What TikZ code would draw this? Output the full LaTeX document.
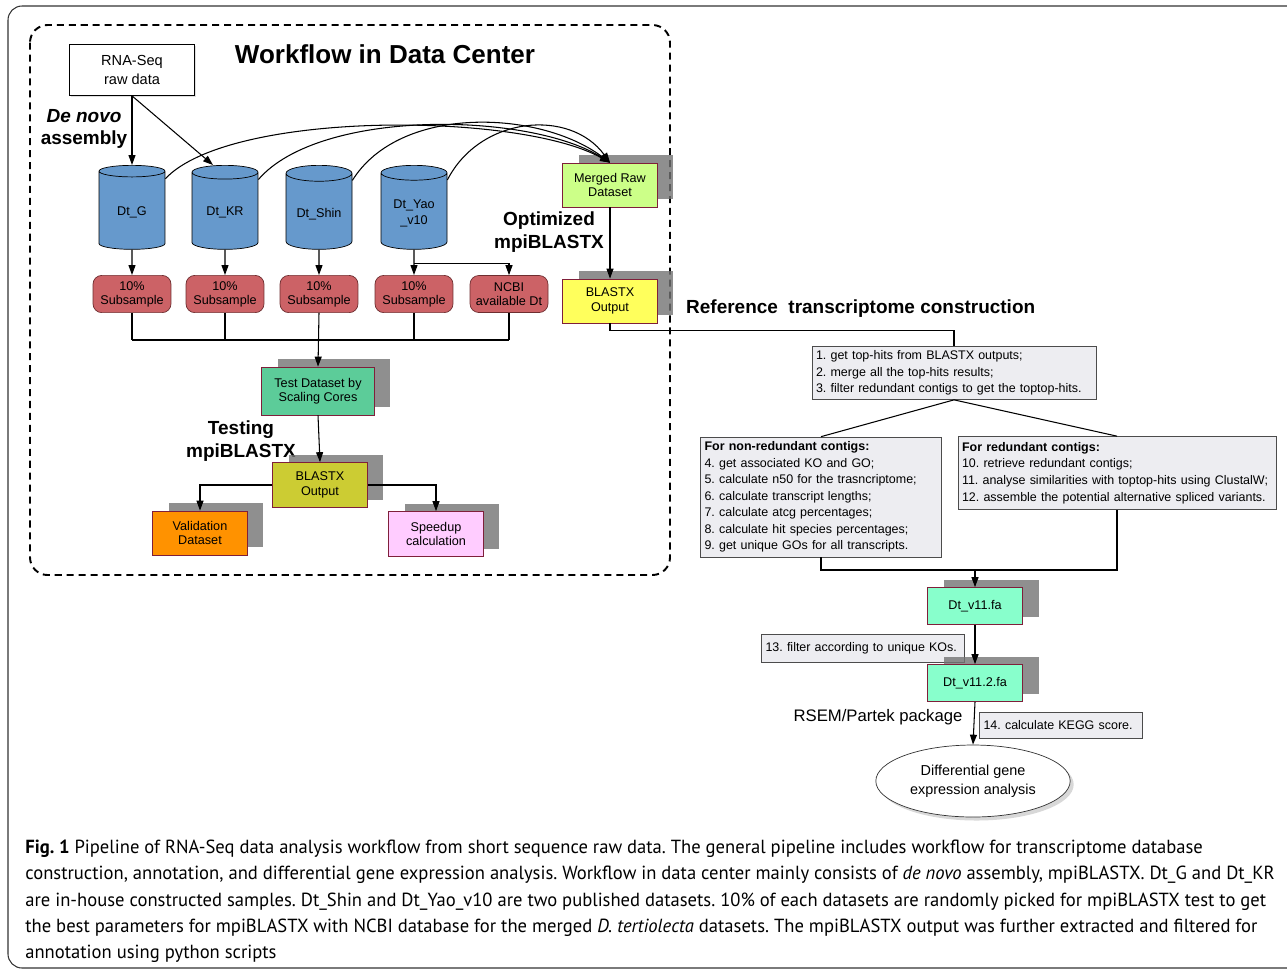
\documentclass[tikz,border=0pt]{standalone}
\usepackage{fontspec}
\setmainfont{Liberation Sans}
\newfontfamily\capfont[FakeStretch=0.98]{PT Sans}
\usetikzlibrary{shapes.geometric,shadows,arrows.meta}
\definecolor{dbblue}{HTML}{6699CC}
\definecolor{subred}{HTML}{CC6266}
\definecolor{subedge}{HTML}{6E2E30}
\definecolor{boxedge}{HTML}{7F1F3A}
\definecolor{mergegreen}{HTML}{CCFF88}
\definecolor{outyellow}{HTML}{FFFF5C}
\definecolor{testgreen}{HTML}{5CCC99}
\definecolor{olive}{HTML}{CCCC33}
\definecolor{valorange}{HTML}{FF9200}
\definecolor{speedpink}{HTML}{FFCCFF}
\definecolor{faaqua}{HTML}{88FFCC}
\definecolor{stepgray}{HTML}{EDEDF1}
\frenchspacing

\begin{document}
\begin{tikzpicture}[x=0.02cm,y=-0.02cm,
  conn/.style={line width=0.6pt},
  arr/.style={conn,-{Triangle[length=2mm,width=1.4mm]}},
  cyl/.style={cylinder,shape border rotate=90,aspect=0.28,draw,fill=dbblue,anchor=north,
    minimum width=1.32cm,minimum height=1.68cm,align=center,font=\fontsize{7.2}{9}\selectfont},
  subbox/.style={rectangle,rounded corners=5pt,draw=subedge,fill=subred,
    minimum width=1.56cm,minimum height=0.74cm,align=center,font=\fontsize{7.2}{8}\selectfont},
  datbox/.style={rectangle,draw=boxedge,minimum width=1.9cm,minimum height=0.88cm,
    align=center,font=\fontsize{7.2}{8.2}\selectfont,
    drop shadow={shadow xshift=0.32cm,shadow yshift=0.16cm,fill=black!55,opacity=0.8}},
  stepbox/.style={rectangle,draw=black!70,fill=stepgray,align=left,
    inner xsep=0.08cm,inner ysep=1pt,font=\fontsize{7.1}{9.4}\selectfont},
  lbl/.style={align=center,font=\bfseries\fontsize{10.8}{13}\selectfont}]
  \useasboundingbox (0,0) rectangle (1287,971);
  % frames
  \draw[black!80,line width=0.6pt,rounded corners=8pt] (8,6) rectangle (1320,968);
  \draw[line width=1.1pt,dash pattern=on 4pt off 2.8pt,rounded corners=10pt] (30,25) rectangle (670,575);

  % workflow in data center
  \node[font=\bfseries\fontsize{14.8}{16}\selectfont] (title) at (385,54) {Workflow in Data Center};
  \node[draw,fill=white,minimum width=2.5cm,minimum height=1.02cm,align=center,
    font=\fontsize{8.3}{11.3}\selectfont,drop shadow={fill=black!25,shadow xshift=1pt,shadow yshift=-1pt}]
    (rna) at (132,70) {RNA-Seq\\raw data};
  \node[lbl] (denovo) at (84,129) {\itshape De novo\\assembly};

  \node[cyl] (dtg) at (132,165) {Dt\_G};
  \node[cyl] (dtkr) at (225,165) {Dt\_KR};
  \node[cyl] (dtshin) at (319,165) {Dt\_Shin};
  \node[cyl] (dtyao) at (414,165) {Dt\_Yao\\\_v10};

  \node[subbox] (sub1) at (132,294) {10\%\\Subsample};
  \node[subbox] (sub2) at (225,294) {10\%\\Subsample};
  \node[subbox] (sub3) at (319,294) {10\%\\Subsample};
  \node[subbox] (sub4) at (414,294) {10\%\\Subsample};
  \node[subbox] (ncbi) at (509,294) {NCBI\\available Dt};

  \node[datbox,fill=mergegreen] (merged) at (610,185) {Merged Raw\\Dataset};
  \node[lbl] (optim) at (549,232) {Optimized\\mpiBLASTX};
  \node[datbox,fill=outyellow] (blasta) at (610,301) {BLASTX\\Output};

  \node[datbox,fill=testgreen,minimum width=2.26cm,minimum height=0.96cm] (test) at (318,391) {Test Dataset by\\Scaling Cores};
  \node[lbl] (testing) at (241,441) {Testing\\mpiBLASTX};
  \node[datbox,fill=olive,minimum height=0.9cm] (blastb) at (320,485) {BLASTX\\Output};
  \node[datbox,fill=valorange] (valid) at (200,533) {Validation\\Dataset};
  \node[datbox,fill=speedpink,minimum height=0.9cm] (speed) at (436,534) {Speedup\\calculation};

  % connectors inside the data center
  \draw[arr] (rna.south) -- (dtg.north);
  \draw[arr] (rna.south) -- ([xshift=-0.24cm]dtkr.north);
  \draw[arr] (dtg.north east) .. controls (230,110) and (520,112) .. (merged.north);
  \draw[arr] (dtkr.north east) .. controls (320,108) and (530,112) .. (merged.north);
  \draw[arr] (dtshin.north east) .. controls (400,104) and (540,110) .. (merged.north);
  \draw[arr] (dtyao.north east) .. controls (480,116) and (570,108) .. (merged.north);
  \draw[arr] (dtg.south) -- (sub1.north);
  \draw[arr] (dtkr.south) -- (sub2.north);
  \draw[arr] (dtshin.south) -- (sub3.north);
  \draw[arr] (dtyao.south) -- (sub4.north);
  \draw[arr] (dtyao.south) ++(0,14) -| (ncbi.north);
  \coordinate (bus) at (319,340);
  \foreach \s in {sub1,sub2,sub4,ncbi}
    \draw[conn] (\s.south) -- (\s.south |- bus);
  \draw[conn] (sub1.south |- bus) -- (ncbi.south |- bus);
  \draw[arr] (sub3.south) -- (test.north);
  \draw[arr] (test.south) -- (blastb.north);
  \draw[arr] (blastb.west) -| (valid.north);
  \draw[arr] (blastb.east) -| (speed.north);
  \draw[arr] (merged.south) -- (blasta.north);

  % reference transcriptome construction
  \node[lbl,anchor=west] (refcon) at (680,309) {Reference\ \ transcriptome construction};
  \node[stepbox,text width=5.52cm,minimum height=1.06cm] (steps) at (954,373) {%
    1. get top-hits from BLASTX outputs;\\
    2. merge all the top-hits results;\\
    3. filter redundant contigs to get the toptop-hits.};
  \node[stepbox,text width=4.66cm,minimum height=2.4cm] (nonred) at (821,497) {%
    \textbf{For non-redundant contigs:}\\
    4. get associated KO and GO;\\
    5. calculate n50 for the trasncriptome;\\
    6. calculate transcript lengths;\\
    7. calculate atcg percentages;\\
    8. calculate hit species percentages;\\
    9. get unique GOs for all transcripts.};
  \node[stepbox,text width=6.2cm,minimum height=1.46cm] (red) at (1117,473) {%
    \textbf{For redundant contigs:}\\
    10. retrieve redundant contigs;\\
    11. analyse similarities with toptop-hits using ClustalW;\\
    12. assemble the potential alternative spliced variants.};
  \node[datbox,fill=faaqua,minimum height=0.74cm] (v11) at (975,606) {Dt\_v11.fa};
  \node[stepbox,text width=3.9cm,minimum height=0.56cm] (filt) at (863,648) {13. filter according to unique KOs.};
  \node[datbox,fill=faaqua,minimum height=0.74cm] (v112) at (975,683) {Dt\_v11.2.fa};
  \node[font=\fontsize{9.5}{11}\selectfont] (rsem) at (878,717) {RSEM/Partek package};
  \node[stepbox,text width=3.1cm,minimum height=0.52cm] (kegg) at (1061,725) {14. calculate KEGG score.};
  \node[ellipse,draw=black!80,fill=white,minimum width=3.6cm,minimum height=1.44cm,align=center,
    font=\fontsize{8.2}{11}\selectfont,drop shadow={fill=black!30,shadow xshift=2pt,shadow yshift=-2pt}]
    (dge) at (973,781) {Differential gene\\expression analysis};

  \draw[conn] (blasta.south) -- ++(0,7) -| (steps.north);
  \draw[conn] (steps.south) -- (nonred.north);
  \draw[conn] (steps.south) -- (red.north);
  \coordinate (join) at (975,570);
  \draw[conn] (nonred.south) |- (red.south |- join) -- (red.south);
  \draw[arr] (join) -- (v11.north);
  \draw[arr] (v11.south) -- (v112.north);
  \draw[arr] (v112.south) -- (dge.north);

  % caption
  \begin{scope}[every node/.style={anchor=base west,inner sep=0pt,font=\capfont\fontsize{10.8}{13}\selectfont}]
    \node (cap1) at (25,853) {\textbf{Fig. 1} Pipeline of RNA-Seq data analysis workflow from short sequence raw data. The general pipeline includes workflow for transcriptome database};
    \node (cap2) at (25,879) {construction, annotation, and differential gene expression analysis. Workflow in data center mainly consists of \textit{de novo} assembly, mpiBLASTX. Dt\_G and Dt\_KR};
    \node (cap3) at (25,906) {are in-house constructed samples. Dt\_Shin and Dt\_Yao\_v10 are two published datasets. 10\% of each datasets are randomly picked for mpiBLASTX test to get};
    \node (cap4) at (25,932) {the best parameters for mpiBLASTX with NCBI database for the merged \textit{D. tertiolecta} datasets. The mpiBLASTX output was further extracted and filtered for};
    \node (cap5) at (25,958) {annotation using python scripts};
  \end{scope}
\end{tikzpicture}
\end{document}
